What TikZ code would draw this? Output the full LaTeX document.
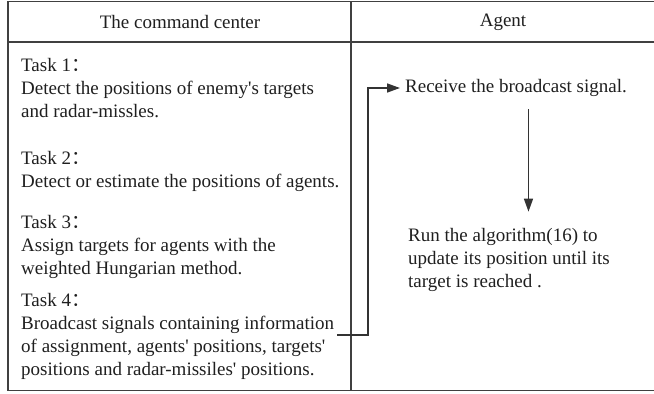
\documentclass[tikz,border=0pt]{standalone}
\usepackage{fontspec}
\setmainfont{Liberation Serif}
\newfontfamily\cjk{Noto Sans CJK SC}
\usetikzlibrary{arrows.meta}
\newcommand{\ap}{\textquotesingle}
\begin{document}
\begin{tikzpicture}[x=1pt,y=-1pt,
  rule/.style={draw=black!75,line width=1.6pt},
  txt/.style={inner sep=0pt,font=\fontsize{19}{23}\selectfont,text=black!88,align=left,anchor=west},
  head/.style={inner sep=0pt,font=\fontsize{19}{23}\selectfont,text=black!88},
  conn/.style={draw=black!80,line width=1.5pt},
  arr/.style={conn,-{Triangle[length=13pt,width=9pt]}}]
\useasboundingbox (0,0) rectangle (654,394);
% table
\draw[rule] (656,1.5) -- (8,1.5) -- (8,390.5) -- (656,390.5);
\draw[rule] (8,42) -- (656,42);
\draw[rule] (351,1.5) -- (351,390.5);
% headers
\node[head] (h1) at (180,22) {The command center};
\node[head] (h2) at (503,22) {Agent};
% left column
\node[txt] (t1) at (21,88) {Task 1{\cjk ：}\\Detect the positions of enemy\ap s targets\\and radar-missles.};
\node[txt] (t2) at (21,171.5) {Task 2{\cjk ：}\\Detect or estimate the positions of agents.};
\node[txt] (t3) at (21,247) {Task 3{\cjk ：}\\Assign targets for agents with the\\weighted Hungarian method.};
\node[txt] (t4) at (21,336) {Task 4{\cjk ：}\\Broadcast signals containing information\\of assignment, agents\ap{} positions, targets\ap\\positions and radar-missiles\ap{} positions.};
% right column
\node[txt,inner xsep=5pt] (r) at (400,88) {Receive the broadcast signal.};
\node[txt] (run) at (408,260) {Run the algorithm(16) to\\update its position until its\\target is reached .};
% connectors
\coordinate (c0) at (337,335);
\draw[arr] (c0) -- (368,335) |- (r.west);
\draw[arr,shorten <=12.5pt,shorten >=16.5pt] ([xshift=12.5pt]r.south) -- ([xshift=12.5pt]r.south |- run.north);
\end{tikzpicture}
\end{document}
